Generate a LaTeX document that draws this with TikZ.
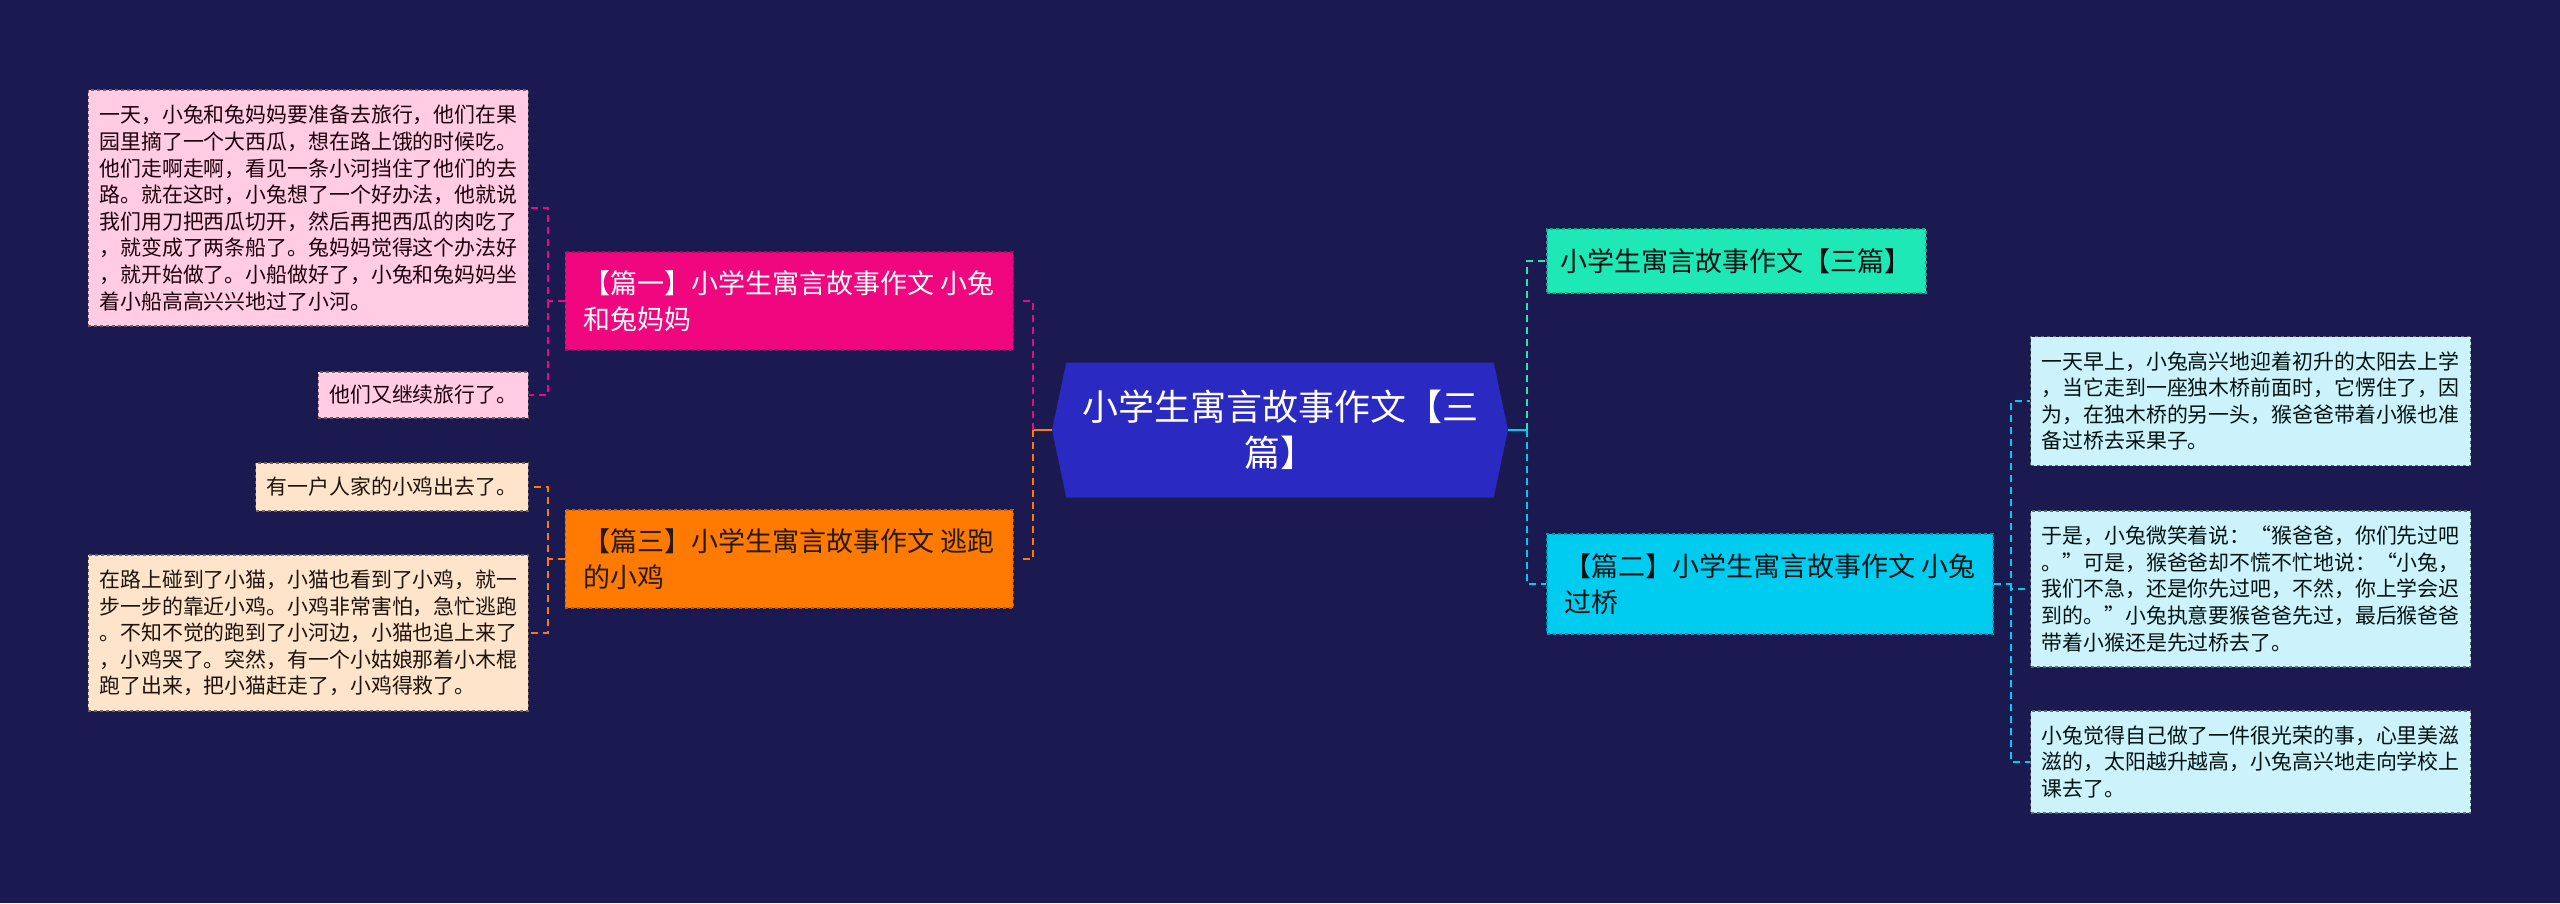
\documentclass[tikz,border=0pt]{standalone}
\usepackage{fontspec}
\newfontfamily\cjk{Noto Sans CJK SC}
\usetikzlibrary{shapes.symbols}

% Colores
\definecolor{fondo}{HTML}{1B1A50}
\definecolor{azulc}{HTML}{2A2AC2}
\definecolor{rosab}{HTML}{F0067E}
\definecolor{naranjab}{HTML}{FF7A00}
\definecolor{aguab}{HTML}{1EE8B5}
\definecolor{cianb}{HTML}{00CCF0}
\definecolor{rosah}{HTML}{FFCCE3}
\definecolor{melocotonh}{HTML}{FFE4CC}
\definecolor{cianh}{HTML}{CCF2FC}

\tikzset{
  rama/.style={draw=#1!75!black, fill=#1, dashed, line width=1.5pt,
    align=left, inner xsep=14pt, inner ysep=4pt,
    font=\cjk\fontsize{27}{36}\selectfont},
  hoja/.style={draw=#1!45!black, fill=#1, dashed, line width=1.2pt,
    align=left, inner xsep=11pt, inner ysep=4pt,
    font=\cjk\fontsize{20.9}{26.6}\selectfont},
  conector/.style={draw=#1, line width=2.5pt, dash pattern=on 7pt off 5pt},
  tallo/.style={draw=#1, line width=2.5pt}
}

\begin{document}
\begin{tikzpicture}[x=1pt, y=-1pt]
    % Fondo
    \fill[fondo] (0,0) rectangle (2560,903);
    \useasboundingbox (0,0) rectangle (2560,903);

    % Nodo central
    \node[shape=signal, signal to=east and west, signal pointer angle=156,
      fill=azulc, text=white, align=center, minimum width=456, minimum height=135,
      font=\cjk\fontsize{36}{46}\selectfont] (centro) at (1280,430)
      {小学生寓言故事作文【三\\篇】};

    % Ramas
    \node[rama=rosab, text=white, anchor=east, minimum width=448, minimum height=98]
      (rama1) at (1014,301) {【篇一】小学生寓言故事作文 小兔\\和兔妈妈};
    \node[rama=naranjab, text=black!80!brown, anchor=east, minimum width=448, minimum height=98]
      (rama3) at (1014,559) {【篇三】小学生寓言故事作文 逃跑\\的小鸡};
    \node[rama=aguab, text=black!85!teal, anchor=west, minimum width=378, minimum height=64]
      (rama0) at (1546,261) {小学生寓言故事作文【三篇】};
    \node[rama=cianb, text=black!85!teal, anchor=west, minimum width=446, minimum height=100]
      (rama2) at (1546,584) {【篇二】小学生寓言故事作文 小兔\\过桥};

    % Hojas
    \node[hoja=rosah, text=black!85!purple, anchor=east, minimum height=236] (h11) at (529,208)
      {一天，小兔和兔妈妈要准备去旅行，他们在果\\园里摘了一个大西瓜，想在路上饿的时候吃。\\他们走啊走啊，看见一条小河挡住了他们的去\\路。就在这时，小兔想了一个好办法，他就说\\我们用刀把西瓜切开，然后再把西瓜的肉吃了\\，就变成了两条船了。兔妈妈觉得这个办法好\\，就开始做了。小船做好了，小兔和兔妈妈坐\\着小船高高兴兴地过了小河。};
    \node[hoja=rosah, text=black!85!purple, anchor=east, minimum height=46] (h12) at (529,395)
      {他们又继续旅行了。};
    \node[hoja=melocotonh, text=black!85!brown, anchor=east, minimum height=48] (h31) at (529,487)
      {有一户人家的小鸡出去了。};
    \node[hoja=melocotonh, text=black!85!brown, anchor=east, minimum height=156] (h32) at (529,633)
      {在路上碰到了小猫，小猫也看到了小鸡，就一\\步一步的靠近小鸡。小鸡非常害怕，急忙逃跑\\。不知不觉的跑到了小河边，小猫也追上来了\\，小鸡哭了。突然，有一个小姑娘那着小木棍\\跑了出来，把小猫赶走了，小鸡得救了。};
    \node[hoja=cianh, text=black!85!teal, anchor=west, minimum height=129] (h21) at (2030,401)
      {一天早上，小兔高兴地迎着初升的太阳去上学\\，当它走到一座独木桥前面时，它愣住了，因\\为，在独木桥的另一头，猴爸爸带着小猴也准\\备过桥去采果子。};
    \node[hoja=cianh, text=black!85!teal, anchor=west, minimum height=156] (h22) at (2030,589)
      {于是，小兔微笑着说：“猴爸爸，你们先过吧\\。”可是，猴爸爸却不慌不忙地说：“小兔，\\我们不急，还是你先过吧，不然，你上学会迟\\到的。”小兔执意要猴爸爸先过，最后猴爸爸\\带着小猴还是先过桥去了。};
    \node[hoja=cianh, text=black!85!teal, anchor=west, minimum height=102] (h23) at (2030,762)
      {小兔觉得自己做了一件很光荣的事，心里美滋\\滋的，太阳越升越高，小兔高兴地走向学校上\\课去了。};

    % Puntos de bifurcación
    \coordinate (bi) at (1033,430);
    \coordinate (bd) at (1527,430);
    \coordinate (bi1) at (548,301);
    \coordinate (bi3) at (548,559);
    \coordinate (bd2) at (2011,584);

    % Conectores del centro
    \draw[tallo=naranjab] (centro.west) -- (bi);
    \draw[conector=rosab, shorten >=8pt] (bi) |- (rama1.east);
    \draw[conector=naranjab, shorten >=8pt] (bi) |- (rama3.east);
    \draw[tallo=cianb] (centro.east) -- (bd);
    \draw[conector=aguab] (bd) |- (rama0.west);
    \draw[conector=cianb] (bd) |- (rama2.west);

    % Conectores de las hojas
    \draw[conector=rosab] (rama1.west) -- (bi1) |- (h11.east);
    \draw[conector=rosab] (bi1) |- (h12.east);
    \draw[conector=naranjab] (rama3.west) -- (bi3) |- (h31.east);
    \draw[conector=naranjab] (bi3) |- (h32.east);
    \draw[conector=cianb] (rama2.east) -- (bd2) |- (h21.west);
    \draw[conector=cianb] (bd2) |- (h22.west);
    \draw[conector=cianb] (bd2) |- (h23.west);
\end{tikzpicture}
\end{document}
